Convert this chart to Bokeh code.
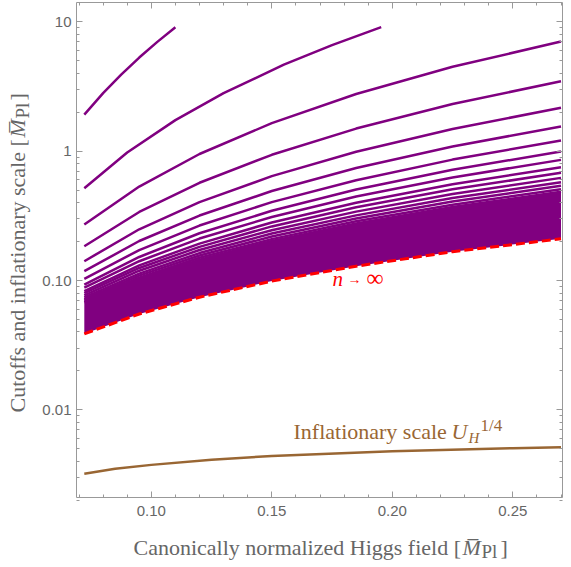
from math import pi
from bokeh.plotting import figure
from bokeh.models import LinearAxis, LogAxis, FixedTicker, Label, Range1d, NumeralTickFormatter
from bokeh.embed import file_html
from bokeh.resources import INLINE

# ---------------- data ----------------
x_grid = [0.0722, 0.095, 0.12, 0.15, 0.185, 0.225, 0.27]

x_n1 = [0.0722, 0.08, 0.0875, 0.095, 0.1025, 0.11]
y_n1 = [1.92, 2.81, 3.91, 5.30, 7.01, 9.10]
x_n2 = [0.0722, 0.09, 0.11, 0.13, 0.155, 0.175, 0.1954]
y_n2 = [0.517, 0.976, 1.740, 2.813, 4.670, 6.62, 9.10]
y_n3 = [0.271, 0.533, 0.951, 1.648, 2.767, 4.498, 7.047]
y_n4 = [0.184, 0.339, 0.570, 0.938, 1.496, 2.317, 3.475]
y_n5 = [0.141, 0.249, 0.404, 0.641, 0.989, 1.486, 2.168]
y_n6 = [0.118, 0.202, 0.318, 0.492, 0.741, 1.089, 1.552]
y_n7 = [0.103, 0.172, 0.266, 0.404, 0.597, 0.861, 1.211]
y_n8 = [0.0931, 0.152, 0.232, 0.346, 0.505, 0.718, 0.995]
y_n9 = [0.0879, 0.141, 0.211, 0.310, 0.446, 0.627, 0.857]
y_n10 = [0.0826, 0.131, 0.193, 0.281, 0.399, 0.555, 0.752]
y_n11 = [0.0800, 0.125, 0.182, 0.262, 0.368, 0.507, 0.681]
y_n12 = [0.0767, 0.119, 0.172, 0.245, 0.341, 0.467, 0.622]
y_n13 = [0.0740, 0.113, 0.163, 0.231, 0.319, 0.434, 0.575]
y_n14 = [0.0716, 0.109, 0.156, 0.219, 0.302, 0.408, 0.540]
y_n15 = [0.0697, 0.105, 0.150, 0.209, 0.287, 0.386, 0.508]
y_n16 = [0.0679, 0.102, 0.145, 0.202, 0.276, 0.370, 0.485]
y_inf = [0.0387, 0.0551, 0.0743, 0.0989, 0.129, 0.167, 0.210]

x_infl = [0.0722, 0.085, 0.10, 0.125, 0.15, 0.20, 0.25, 0.27]
y_infl = [0.0032, 0.0035, 0.00375, 0.00410, 0.00440, 0.00479, 0.00505, 0.00514]

x_major = [0.10, 0.15, 0.20, 0.25]
x_minor = [0.07, 0.08, 0.09, 0.10, 0.11, 0.12, 0.13, 0.14, 0.15, 0.16, 0.17,
           0.18, 0.19, 0.20, 0.21, 0.22, 0.23, 0.24, 0.25, 0.26, 0.27]
y_major = [0.01, 0.1, 1.0, 10.0]
y_labels = ["0.01", "0.10", "1", "10"]
y_minor = [k * 10.0 ** e for e in range(-3, 2) for k in range(2, 10)]

# ---------------- styling ----------------
PURPLE = "#800080"
RED = "#ff0000"
BROWN = "#996633"
FRAME = "#999999"
TEXT = "#666666"
SERIF = "Liberation Serif"

W, H = 564, 566
B_LEFT, B_RIGHT, B_TOP, B_BOTTOM = 76, 562, 2, 497   # visible plot box (px)


def dx(px):
    return 0.10 + (px - 150.8) / 2410.0


def dy(py):
    return 10 ** (-1.0 + (280.0 - py) / 129.3)


# the frame covers the whole canvas so that titles drawn as labels are not clipped;
# the visible box is made of four axes pinned with fixed_location / bounds
p = figure(width=W, height=H, y_axis_type="log",
           x_range=Range1d(dx(0), dx(W)), y_range=Range1d(dy(H), dy(0)),
           output_backend="svg", toolbar_location=None,
           min_border_left=0, min_border_right=0, min_border_top=0, min_border_bottom=0)
p.background_fill_color = "white"
p.border_fill_color = "white"
p.outline_line_color = None
p.grid.grid_line_color = None

xb = (dx(B_LEFT), dx(B_RIGHT))
yb = (dy(B_BOTTOM), dy(B_TOP))

bottom_ax = p.below[0]
left_ax = p.left[0]
bottom_ax.ticker = FixedTicker(ticks=x_major, minor_ticks=x_minor)
bottom_ax.formatter = NumeralTickFormatter(format="0.00")
bottom_ax.fixed_location = dy(B_BOTTOM)
bottom_ax.bounds = xb
left_ax.ticker = FixedTicker(ticks=y_major, minor_ticks=y_minor)
left_ax.major_label_overrides = dict(zip(y_major, y_labels))
left_ax.fixed_location = dx(B_LEFT)
left_ax.bounds = yb

top_ax = LinearAxis(ticker=FixedTicker(ticks=x_major, minor_ticks=x_minor),
                    fixed_location=dy(B_TOP), bounds=xb)
right_ax = LogAxis(ticker=FixedTicker(ticks=y_major, minor_ticks=y_minor),
                   fixed_location=dx(B_RIGHT), bounds=yb)
p.add_layout(top_ax, "above")
p.add_layout(right_ax, "right")

for ax in (bottom_ax, left_ax, top_ax, right_ax):
    ax.axis_line_color = FRAME
    ax.major_tick_line_color = FRAME
    ax.minor_tick_line_color = FRAME
    ax.major_tick_in = 6
    ax.major_tick_out = 0
    ax.minor_tick_in = 3
    ax.minor_tick_out = 0
    ax.major_label_text_color = TEXT
    ax.major_label_text_font = "Liberation Sans"
    ax.major_label_text_font_size = "15px"

for ax in (top_ax, right_ax):
    ax.major_label_text_font_size = "1px"
    ax.major_label_text_color = None
    ax.major_label_standoff = 0

bottom_ax.major_label_standoff = 8
left_ax.major_label_standoff = 5

# ---------------- marks ----------------
p.varea(x=x_grid, y1=y_inf, y2=y_n16, fill_color=PURPLE)
p.line(x_n1, y_n1, line_color=PURPLE, line_width=2.5)
p.line(x_n2, y_n2, line_color=PURPLE, line_width=2.5)
for ys in [y_n3, y_n4, y_n5, y_n6, y_n7, y_n8, y_n9, y_n10,
           y_n11, y_n12, y_n13, y_n14, y_n15, y_n16]:
    p.line(x_grid, ys, line_color=PURPLE, line_width=2.5)
p.line(x_grid, y_inf, line_color=RED, line_width=3, line_dash="9 4")
p.line(x_infl, y_infl, line_color=BROWN, line_width=2.5)

BASE_FIX = 0.31  # measured shift of Bokeh's "alphabetic" anchor, in em


def lab(text, px, py, size, color, style="normal", angle=0.0):
    if angle == 0.0:
        py = py - BASE_FIX * size
    else:
        px = px - BASE_FIX * size
    p.add_layout(Label(x=dx(px), y=dy(py), text=text, text_font=SERIF,
                       text_font_size=f"{size}px", text_color=color,
                       text_font_style=style, angle=angle,
                       text_align="left", text_baseline="alphabetic"))


# annotations
lab("n", 332, 285, 21, RED, "italic")
lab("\u2192", 347, 283, 14, RED)
lab("\u221e", 366, 285, 24, RED)
lab("Inflationary scale", 293, 438, 22, BROWN)
lab("U", 451, 438, 22, BROWN, "italic")
lab("H", 468, 442, 15, BROWN, "italic")
lab("1/4", 480, 430, 17, BROWN)

# x axis title
lab("Canonically normalized Higgs field [", 133, 554, 22, TEXT)
lab("M\u0305", 462, 554, 22, TEXT, "italic")
lab("Pl", 481, 557, 19, TEXT)
lab("]", 500, 554, 22, TEXT)

# y axis title (rotated)
lab("Cutoffs and inflationary scale [", 24, 412, 22, TEXT, angle=pi / 2)
lab("M\u0305", 24, 137, 22, TEXT, "italic", angle=pi / 2)
lab("Pl", 28, 118, 19, TEXT, angle=pi / 2)
lab("]", 24, 100, 22, TEXT, angle=pi / 2)

open("out.html", "w").write(file_html(p, INLINE))
